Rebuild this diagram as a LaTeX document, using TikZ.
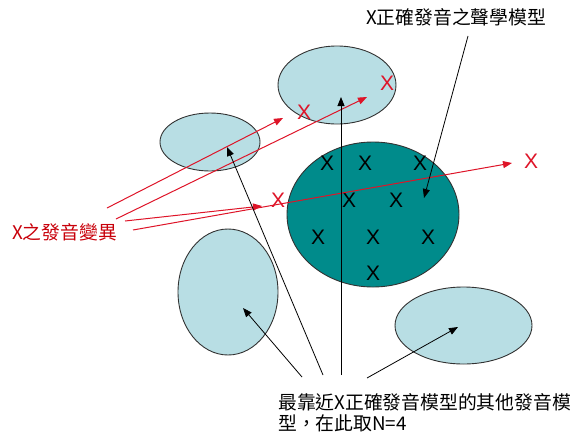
\documentclass[tikz,border=0pt]{standalone}
\usepackage{fontspec}
\setmainfont{Liberation Sans}
\newfontfamily\cjk{Noto Sans CJK TC}
\usetikzlibrary{shapes.geometric,arrows.meta}
\definecolor{lightfill}{RGB}{184,222,228}
\definecolor{tealfill}{RGB}{0,139,139}
\definecolor{edgegray}{RGB}{50,50,50}
\definecolor{redline}{RGB}{222,20,40}
\definecolor{redtext}{RGB}{200,0,10}
\begin{document}
\begin{tikzpicture}[x=1pt,y=-1pt,
  blob/.style={ellipse,draw=edgegray,line width=0.9pt,inner sep=0pt},
  blkarrow/.style={draw=black,line width=0.8pt,-{Triangle[length=9pt,width=7pt]}},
  redarrow/.style={draw=redline,line width=1pt,-{Triangle[length=9pt,width=7pt]}},
  xmk/.style={inner sep=0pt,font=\fontsize{21}{21}\selectfont},
  cjktext/.style={inner sep=0pt,anchor=west,font=\cjk\fontsize{18.8}{18.8}\selectfont}
]
\useasboundingbox (0,0) rectangle (575,434);
% ellipses
\node[blob,fill=lightfill,minimum width=118pt,minimum height=78pt] (top) at (337,85) {};
\node[blob,fill=lightfill,minimum width=100pt,minimum height=58pt] (small) at (210,142) {};
\node[blob,fill=tealfill,minimum width=172pt,minimum height=145pt] (teal) at (373,214.5) {};
\node[blob,fill=lightfill,minimum width=100pt,minimum height=126pt] (lowleft) at (228,292) {};
\node[blob,fill=lightfill,minimum width=137pt,minimum height=77pt] (lowright) at (463.5,325.5) {};
% texts
\node[cjktext] (title) at (366,17) {X正確發音之聲學模型};
\node[cjktext,text=redtext] (varlabel) at (12,232) {X之發音變異};
\node[cjktext] (line1) at (278,402) {最靠近X正確發音模型的其他發音模};
\node[cjktext] (line2) at (278,423) {型，在此取N=4};
% black X marks
\node[xmk] (k1) at (327,163) {X};
\node[xmk] (k2) at (365,163) {X};
\node[xmk] (k3) at (420,163) {X};
\node[xmk] (k4) at (349,200) {X};
\node[xmk] (k5) at (396,200) {X};
\node[xmk] (k6) at (318,237) {X};
\node[xmk] (k7) at (373,237) {X};
\node[xmk] (k8) at (428,237) {X};
\node[xmk] (k9) at (373,273) {X};
% red X marks
\node[xmk,text=redline] (xr1) at (304,112) {X};
\node[xmk,text=redline] (xr2) at (387,83) {X};
\node[xmk,text=redline] (xr3) at (278,200) {X};
\node[xmk,text=redline] (xr4) at (531,161) {X};
% connector ends
\coordinate (r1s) at (107,208);
\coordinate (r2s) at (116,219);
\coordinate (r3s) at (125,221);
\coordinate (r4s) at (133,230);
\coordinate (r1e) at (283,118);
\coordinate (r2e) at (367,97);
\coordinate (r3e) at (262,206);
\coordinate (r4e) at (512,163);
\coordinate (b1s) at (341,375);
\coordinate (b2s) at (323,375);
\coordinate (b3s) at (302,377);
\coordinate (b4s) at (367,378);
\coordinate (b1e) at (341,97);
\coordinate (b2e) at (227,147);
\coordinate (b3e) at (243,308);
\coordinate (b4e) at (458,327);
\coordinate (ts) at (468,36);
\coordinate (te) at (424,198);
% red arrows
\draw[redarrow] (r1s) -- (r1e);
\draw[redarrow] (r2s) -- (r2e);
\draw[redarrow] (r3s) -- (r3e);
\draw[redarrow] (r4s) -- (r4e);
% black arrows
\draw[blkarrow] (b1s) -- (b1e);
\draw[blkarrow] (b2s) -- (b2e);
\draw[blkarrow] (b3s) -- (b3e);
\draw[blkarrow] (b4s) -- (b4e);
\draw[blkarrow] (ts) -- (te);
\end{tikzpicture}
\end{document}
